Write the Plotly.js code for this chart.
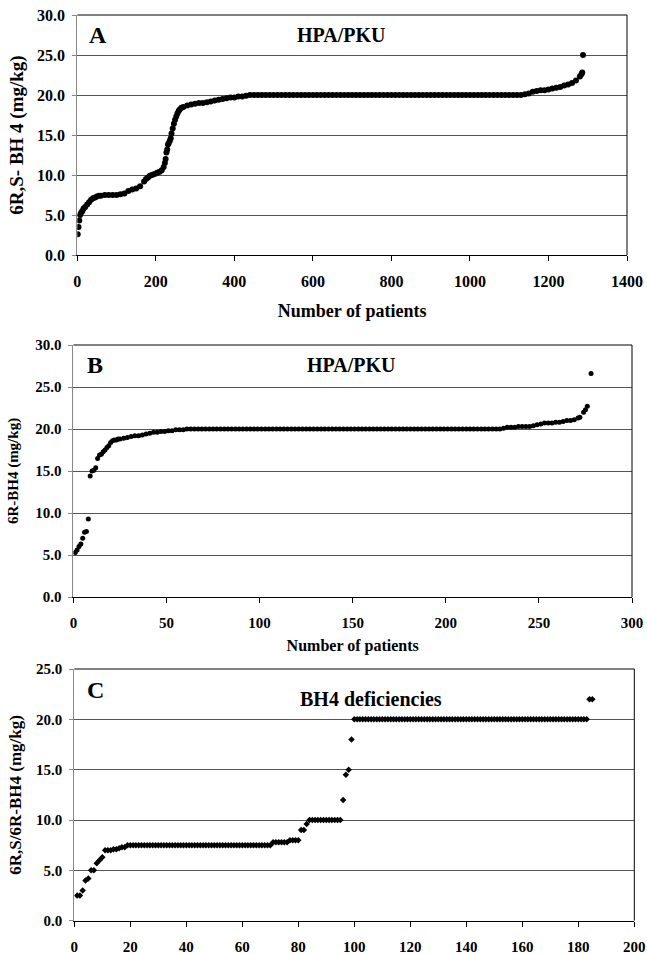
<!DOCTYPE html>
<html>
<head>
<meta charset="utf-8">
<script src="https://cdn.plot.ly/plotly-3.0.1.min.js"></script>
<style>html,body{margin:0;padding:0;background:#fff;}#chart{width:647px;height:954px;}</style>
</head>
<body>
<div id="chart"></div>
<script>
// ---------- Panel A: HPA/PKU, 6R,S-BH4 (sorted, sampled by rank) ----------
const aPatients = [
  1,3,5,7,10,13,16,20,25,30,
  35,40,45,50,55,60,70,80,90,100,
  110,120,130,140,150,160,170,175,180,185,
  190,195,200,205,210,215,220,223,225,227,
  229,231,233,236,238,240,243,246,249,252,
  255,258,261,265,270,280,290,300,310,320,
  330,340,350,360,370,380,390,400,410,420,
  430,440,
  450,460,470,480,490,500,510,520,530,540,
  550,560,570,580,590,600,610,620,630,640,
  650,660,670,680,690,700,710,720,730,740,
  750,760,770,780,790,800,810,820,830,840,
  850,860,870,880,890,900,910,920,930,940,
  950,960,970,980,990,1000,1010,1020,1030,1040,
  1050,1060,1070,1080,1090,1100,1110,1120,1130,
  1140,1150,1160,1170,1180,1190,1200,1210,1220,1230,
  1240,1250,1260,1270,1280,
  1284,1286,1288
];
const aDose = [
  2.6,3.5,4.3,5.0,5.3,5.5,5.8,6.0,6.3,6.6,
  6.9,7.1,7.2,7.3,7.4,7.4,7.5,7.5,7.5,7.5,
  7.6,7.7,8.0,8.2,8.3,8.6,9.2,9.5,9.7,9.9,
  10.0,10.1,10.2,10.3,10.4,10.6,11.0,11.5,12.0,12.8,
  13.2,13.8,14.0,14.3,14.6,15.2,15.8,16.4,16.9,17.3,
  17.7,18.0,18.2,18.4,18.5,18.7,18.8,18.9,19.0,19.0,
  19.1,19.2,19.3,19.4,19.5,19.6,19.7,19.7,19.8,19.8,
  19.9,20.0,
  20.0,20.0,20.0,20.0,20.0,20.0,20.0,20.0,20.0,20.0,
  20.0,20.0,20.0,20.0,20.0,20.0,20.0,20.0,20.0,20.0,
  20.0,20.0,20.0,20.0,20.0,20.0,20.0,20.0,20.0,20.0,
  20.0,20.0,20.0,20.0,20.0,20.0,20.0,20.0,20.0,20.0,
  20.0,20.0,20.0,20.0,20.0,20.0,20.0,20.0,20.0,20.0,
  20.0,20.0,20.0,20.0,20.0,20.0,20.0,20.0,20.0,20.0,
  20.0,20.0,20.0,20.0,20.0,20.0,20.0,20.0,20.0,
  20.1,20.2,20.4,20.5,20.6,20.6,20.7,20.8,20.9,21.0,
  21.2,21.3,21.5,21.8,22.3,
  22.6,22.8,25.0
];

// ---------- Panel B: HPA/PKU, 6R-BH4 ----------
const bPatients = [
  1,2,3,4,5,6,7,8,9,10,
  11,12,13,14,15,16,17,18,19,20,
  21,22,23,24,25,
  27,29,31,33,35,37,39,41,43,45,
  47,49,51,53,55,57,59,61,63,65,
  67,69,71,73,75,77,79,81,83,85,
  87,89,91,93,95,97,99,101,103,105,
  107,109,111,113,115,117,119,121,123,125,
  127,129,131,133,135,137,139,141,143,145,
  147,149,151,153,155,157,159,161,163,165,
  167,169,171,173,175,177,179,181,183,185,
  187,189,191,193,195,197,199,201,203,205,
  207,209,211,213,215,217,219,221,223,225,
  227,229,
  231,233,235,237,239,241,243,245,247,249,
  251,253,255,257,259,261,263,265,267,269,
  271,
  272,274,275,276,278
];
const bDose = [
  5.3,5.6,6.0,6.3,7.0,7.7,7.8,9.3,14.4,15.0,
  15.1,15.4,16.5,16.9,17.0,17.3,17.5,17.8,18.0,18.4,
  18.6,18.7,18.7,18.8,18.8,
  18.9,19.0,19.1,19.2,19.2,19.3,19.4,19.5,19.6,19.6,
  19.7,19.7,19.8,19.8,19.9,19.9,19.9,20.0,20.0,20.0,
  20.0,20.0,20.0,20.0,20.0,20.0,20.0,20.0,20.0,20.0,
  20.0,20.0,20.0,20.0,20.0,20.0,20.0,20.0,20.0,20.0,
  20.0,20.0,20.0,20.0,20.0,20.0,20.0,20.0,20.0,20.0,
  20.0,20.0,20.0,20.0,20.0,20.0,20.0,20.0,20.0,20.0,
  20.0,20.0,20.0,20.0,20.0,20.0,20.0,20.0,20.0,20.0,
  20.0,20.0,20.0,20.0,20.0,20.0,20.0,20.0,20.0,20.0,
  20.0,20.0,20.0,20.0,20.0,20.0,20.0,20.0,20.0,20.0,
  20.0,20.0,20.0,20.0,20.0,20.0,20.0,20.0,20.0,20.0,
  20.0,20.0,
  20.1,20.2,20.2,20.2,20.3,20.3,20.3,20.3,20.4,20.5,
  20.6,20.7,20.7,20.7,20.8,20.8,20.9,21.0,21.0,21.1,
  21.3,
  21.4,22.0,22.3,22.7,26.6
];

// ---------- Panel C: BH4 deficiencies, 6R,S/6R-BH4 (every patient, by rank) ----------
const cDose = [
  2.5,2.5,3.0,4.0,4.2,5.0,5.0,5.7,6.0,6.3,
  7.0,7.0,7.0,7.1,7.1,7.2,7.3,7.3,7.5,
  7.5,7.5,7.5,7.5,7.5,7.5,7.5,7.5,7.5,7.5,
  7.5,7.5,7.5,7.5,7.5,7.5,7.5,7.5,7.5,7.5,
  7.5,7.5,7.5,7.5,7.5,7.5,7.5,7.5,7.5,7.5,
  7.5,7.5,7.5,7.5,7.5,7.5,7.5,7.5,7.5,7.5,
  7.5,7.5,7.5,7.5,7.5,7.5,7.5,7.5,7.5,7.5,
  7.5,
  7.8,7.8,7.8,7.8,7.8,7.8,
  8.0,8.0,8.0,8.0,
  9.0,9.0,9.6,
  10.0,10.0,10.0,10.0,10.0,10.0,10.0,10.0,10.0,10.0,10.0,10.0,
  12.0,14.5,15.0,18.0,
  20.0,20.0,20.0,20.0,20.0,20.0,20.0,20.0,20.0,20.0,
  20.0,20.0,20.0,20.0,20.0,20.0,20.0,20.0,20.0,20.0,
  20.0,20.0,20.0,20.0,20.0,20.0,20.0,20.0,20.0,20.0,
  20.0,20.0,20.0,20.0,20.0,20.0,20.0,20.0,20.0,20.0,
  20.0,20.0,20.0,20.0,20.0,20.0,20.0,20.0,20.0,20.0,
  20.0,20.0,20.0,20.0,20.0,20.0,20.0,20.0,20.0,20.0,
  20.0,20.0,20.0,20.0,20.0,20.0,20.0,20.0,20.0,20.0,
  20.0,20.0,20.0,20.0,20.0,20.0,20.0,20.0,20.0,20.0,
  20.0,20.0,20.0,20.0,
  22.0,22.0
];
const cPatients = cDose.map((_, i) => i + 1);

// Labels
const panelLetters = ['A', 'B', 'C'];
const panelGroups = ['HPA/PKU', 'HPA/PKU', 'BH4 deficiencies'];
const yTitles = ['6R,S- BH 4 (mg/kg)', '6R-BH4 (mg/kg)', '6R,S/6R-BH4 (mg/kg)'];
const xTitle = 'Number of patients';

if (aPatients.length !== aDose.length || bPatients.length !== bDose.length) {
  throw new Error('length mismatch A ' + aPatients.length + '/' + aDose.length + ' B ' + bPatients.length + '/' + bDose.length + ' C ' + cDose.length);
}

const FONT = '"Liberation Serif", "Times New Roman", serif';
const W = 647, H = 954;
function px2dx(l, r) { return [l / W, r / W]; }
function px2dy(t, b) { return [1 - b / H, 1 - t / H]; }

const traces = [
  { x: aPatients, y: aDose, xaxis: 'x', yaxis: 'y', type: 'scatter', mode: 'markers',
    marker: { symbol: 'circle', size: 6, color: '#000' }, hoverinfo: 'x+y' },
  { x: bPatients, y: bDose, xaxis: 'x2', yaxis: 'y2', type: 'scatter', mode: 'markers',
    marker: { symbol: 'circle', size: 5, color: '#000' }, hoverinfo: 'x+y' },
  { x: cPatients, y: cDose, xaxis: 'x3', yaxis: 'y3', type: 'scatter', mode: 'markers',
    marker: { symbol: 'diamond', size: 5, color: '#000' }, hoverinfo: 'x+y' }
];

function xax(domain, range, dtick, fs, anchor, title, tfs, standoff) {
  const o = {
    domain: domain, range: range, dtick: dtick, tick0: 0, anchor: anchor,
    showgrid: false, zeroline: false, showline: true, linecolor: '#000', linewidth: 1,
    ticks: 'outside', ticklen: 5, tickcolor: '#000', tickwidth: 1,
    tickfont: { family: FONT, size: fs, color: '#000', weight: 700 },
    ticklabelstandoff: 7, fixedrange: true
  };
  if (title) o.title = { text: title, font: { family: FONT, size: tfs, color: '#000', weight: 700 }, standoff: standoff };
  return o;
}
function yax(domain, range, fs, anchor, title, tfs, standoff) {
  return {
    domain: domain, range: range, dtick: 5, tick0: 0, anchor: anchor, tickformat: '.1f',
    showgrid: true, gridcolor: '#555', gridwidth: 1, zeroline: false,
    showline: true, linecolor: '#888', linewidth: 1,
    ticks: 'outside', ticklen: 4, tickcolor: '#888',
    tickfont: { family: FONT, size: fs, color: '#000', weight: 700 },
    ticklabelstandoff: 4, fixedrange: true,
    title: { text: title, font: { family: FONT, size: tfs, color: '#000', weight: 700 }, standoff: standoff }
  };
}

const layout = {
  width: W, height: H, margin: { l: 0, r: 0, t: 0, b: 0 },
  paper_bgcolor: '#fff', plot_bgcolor: '#fff', showlegend: false,
  xaxis:  xax(px2dx(77.3, 627), [0, 1400], 200, 16, 'y', xTitle, 18, 15),
  yaxis:  yax(px2dy(15, 255), [0, 30], 16, 'x', yTitles[0], 19, 8),
  xaxis2: xax(px2dx(73.4, 632), [0, 300], 50, 15, 'y2', xTitle, 16, 9),
  yaxis2: yax(px2dy(345, 597), [0, 30], 15, 'x2', yTitles[1], 15, 12),
  xaxis3: xax(px2dx(74.3, 634.3), [0, 200], 20, 15, 'y3', null, 15, 10),
  yaxis3: yax(px2dy(669, 920.7), [0, 25], 15, 'x3', yTitles[2], 17, 10),
  shapes: [],
  annotations: []
};

const suffixes = ['', '2', '3'];
const letterPos = [[0.038, 0.917], [0.039, 0.921], [0.037, 0.917]];
const groupPos = [[0.48, 0.917], [0.497, 0.921], [0.53, 0.881]];
suffixes.forEach((s, i) => {
  const xr = 'x' + s + ' domain', yr = 'y' + s + ' domain';
  layout.shapes.push({ type: 'line', xref: xr, yref: yr, x0: 0, x1: 1, y0: 1, y1: 1, line: { color: '#000', width: 1 }, layer: 'above' });
  layout.shapes.push({ type: 'line', xref: xr, yref: yr, x0: 1, x1: 1, y0: 0, y1: 1, line: { color: '#000', width: 1 }, layer: 'above' });
  layout.annotations.push({ xref: xr, yref: yr, x: letterPos[i][0], y: letterPos[i][1], text: panelLetters[i],
    showarrow: false, xanchor: 'center', yanchor: 'middle', font: { family: FONT, size: 24, color: '#000', weight: 700 } });
  layout.annotations.push({ xref: xr, yref: yr, x: groupPos[i][0], y: groupPos[i][1], text: panelGroups[i],
    showarrow: false, xanchor: 'center', yanchor: 'middle', font: { family: FONT, size: 20, color: '#000', weight: 700 } });
});

Plotly.newPlot('chart', traces, layout, { displayModeBar: false, staticPlot: true });
</script>
</body>
</html>
